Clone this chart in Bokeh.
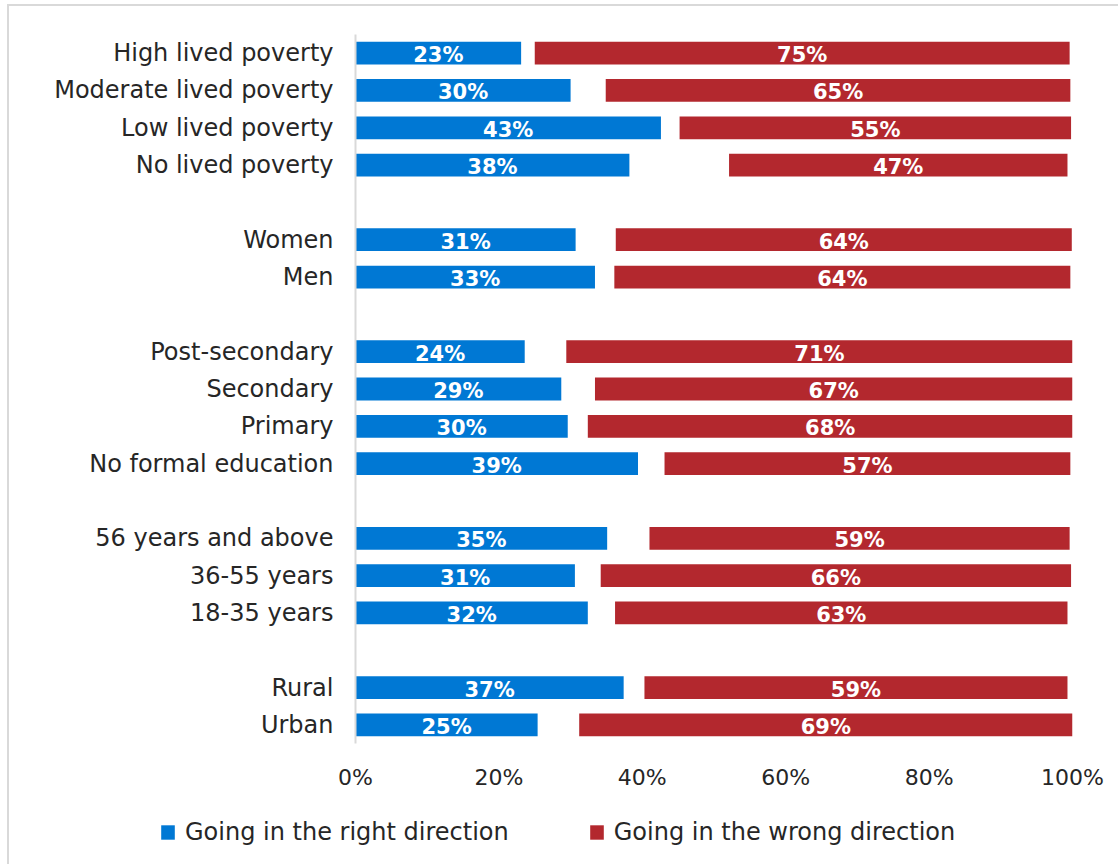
from bokeh.plotting import figure
from bokeh.models import ColumnDataSource, FactorRange, Range1d, FixedTicker, PrintfTickFormatter, Legend, LegendItem
from bokeh.core.properties import value
from bokeh.embed import file_html
from bokeh.resources import INLINE

categories = ["High lived poverty", "Moderate lived poverty", "Low lived poverty", "No lived poverty",
              "Women", "Men",
              "Post-secondary", "Secondary", "Primary", "No formal education",
              "56 years and above", "36-55 years", "18-35 years",
              "Rural", "Urban"]
group_sizes = [4, 2, 4, 3, 2]
right = [23.1, 30.0, 42.6, 38.2, 30.7, 33.4, 23.6, 28.7, 29.6, 39.4, 35.1, 30.6, 32.4, 37.4, 25.4]
other = [1.9, 4.9, 2.6, 13.9, 5.6, 2.7, 5.8, 4.7, 2.8, 3.7, 5.9, 3.6, 3.8, 2.9, 5.8]
wrong = [74.6, 64.8, 54.6, 47.2, 63.6, 63.6, 70.6, 66.6, 67.6, 56.6, 58.6, 65.6, 63.1, 59.0, 68.8]
x_ticks = [0, 20, 40, 60, 80, 100]
series_names = ["Going in the right direction", "Going in the wrong direction"]

BLUE = "#0078d4"
RED = "#b3282e"
FONT = "DejaVu Sans"
TXT = "#262626"

# factor list with blank spacers between groups (top to bottom)
factors = []
idx = 0
for g, n in enumerate(group_sizes):
    if g > 0:
        factors.append(" " * g)
    factors.extend(categories[idx:idx + n])
    idx += n

red_left = [r + o for r, o in zip(right, other)]
red_right = [r + o + w for r, o, w in zip(right, other, wrong)]
src = ColumnDataSource(dict(
    cat=categories,
    right=right,
    zero=[0] * len(categories),
    red_left=red_left,
    red_right=red_right,
    blue_mid=[r / 2 for r in right],
    red_mid=[(a + b) / 2 for a, b in zip(red_left, red_right)],
    blue_lab=[f"{round(v)}%" for v in right],
    red_lab=[f"{round(v)}%" for v in wrong],
))

p = figure(width=1111, height=800, output_backend="svg", toolbar_location=None,
           y_range=FactorRange(factors=list(reversed(factors))),
           x_range=Range1d(0, 100),
           min_border_left=346, min_border_right=48, min_border_top=28, min_border_bottom=63,
           background_fill_color="white", border_fill_color="white")
p.styles = {"margin-left": "7px", "margin-top": "4px",
            "border-left": "2px solid #d9d9d9", "border-top": "2px solid #d9d9d9"}
p.outline_line_color = None
p.xgrid.visible = False
p.ygrid.visible = False

bh = 0.61
p.hbar(y="cat", left="zero", right="right", height=bh, source=src,
       fill_color=BLUE, line_color=None)
p.hbar(y="cat", left="red_left", right="red_right", height=bh, source=src,
       fill_color=RED, line_color=None)

p.text(x="blue_mid", y="cat", text="blue_lab", source=src, text_align="center",
       text_baseline="middle", text_color="white", text_font=value(FONT),
       text_font_style="bold", text_font_size="21px", y_offset=2)
p.text(x="red_mid", y="cat", text="red_lab", source=src, text_align="center",
       text_baseline="middle", text_color="white", text_font=value(FONT),
       text_font_style="bold", text_font_size="21px", y_offset=2)

xa = p.xaxis[0]
xa.ticker = FixedTicker(ticks=x_ticks)
xa.formatter = PrintfTickFormatter(format="%d%%")
xa.axis_line_color = None
xa.major_tick_line_color = None
xa.minor_tick_line_color = None
xa.major_tick_out = 0
xa.major_tick_in = 0
xa.major_label_standoff = 21
xa.major_label_text_font = FONT
xa.major_label_text_font_size = "22px"
xa.major_label_text_color = TXT

ya = p.yaxis[0]
ya.axis_line_color = "#d9d9d9"
ya.axis_line_width = 2
ya.major_tick_line_color = None
ya.minor_tick_line_color = None
ya.major_tick_out = 0
ya.major_tick_in = 0
ya.major_label_standoff = 22
ya.major_label_text_font = FONT
ya.major_label_text_font_size = "24px"
ya.major_label_text_color = TXT

# legend strip below the chart (separate root so its frame spans the full width)
pl = figure(width=1111, height=60, output_backend="svg", toolbar_location=None,
            x_range=Range1d(0, 1), y_range=Range1d(0, 1),
            min_border=0, min_border_left=0, min_border_right=0,
            min_border_top=0, min_border_bottom=0,
            background_fill_color="white", border_fill_color="white")
pl.styles = {"margin-left": "7px", "border-left": "2px solid #d9d9d9"}
pl.axis.visible = False
pl.grid.visible = False
pl.outline_line_color = None
offscreen = ColumnDataSource(dict(y=[5], l=[5], r=[6]))
lb = pl.hbar(y="y", left="l", right="r", height=0.5, source=offscreen, fill_color=BLUE, line_color=None)
lr = pl.hbar(y="y", left="l", right="r", height=0.5, source=offscreen, fill_color=RED, line_color=None)
legend = Legend(items=[LegendItem(label=series_names[0], renderers=[lb]),
                       LegendItem(label=series_names[1], renderers=[lr])],
                orientation="horizontal", location=(150, 18),
                border_line_color=None, background_fill_alpha=0,
                padding=0, margin=0, spacing=79,
                glyph_width=17, glyph_height=18, label_standoff=9,
                label_text_font=FONT, label_text_font_size="24px",
                label_text_color=TXT)
pl.add_layout(legend, "center")

open("out.html", "w").write(file_html([p, pl], INLINE))
